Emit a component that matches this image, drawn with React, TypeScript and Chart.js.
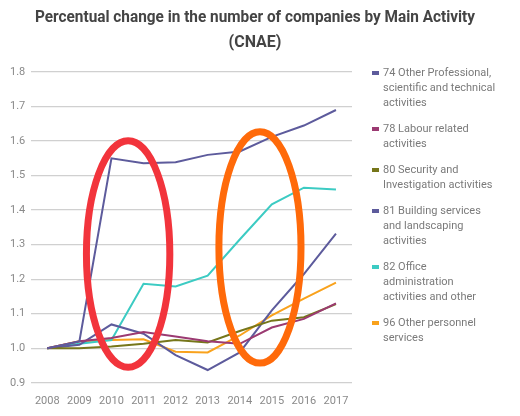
import React, { useEffect, useRef } from "react";
import { Chart, registerables } from "chart.js";
Chart.register(...registerables);

const years = ["2008", "2009", "2010", "2011", "2012", "2013", "2014", "2015", "2016", "2017"];

const s74 = [1.0, 1.02, 1.55, 1.536, 1.539, 1.56, 1.57, 1.612, 1.645, 1.69];
const s78 = [1.0, 1.02, 1.03, 1.047, 1.034, 1.02, 1.013, 1.06, 1.085, 1.13];
const s80 = [1.0, 1.0, 1.005, 1.013, 1.024, 1.017, 1.05, 1.08, 1.09, 1.128];
const s81 = [1.0, 1.01, 1.069, 1.042, 0.98, 0.937, 0.988, 1.11, 1.215, 1.332];
const s82 = [1.0, 1.013, 1.024, 1.187, 1.179, 1.21, 1.315, 1.417, 1.465, 1.46];
const s96 = [1.0, 1.02, 1.024, 1.026, 0.99, 0.988, 1.037, 1.095, 1.144, 1.19];

const seriesValues = [s74, s78, s80, s81, s82, s96];
const seriesNames = [
  ["74 Other Professional,", "scientific and technical", "activities"],
  ["78 Labour related", "activities"],
  ["80 Security and", "Investigation activities"],
  ["81 Building services", "and landscaping", "activities"],
  ["82 Office", "administration", "activities and other"],
  ["96 Other personnel", "services"],
];
const seriesColors = ["#5d5b9c", "#9b3a72", "#76761a", "#5d5b9c", "#3ccbc3", "#f9a21c"];

const titleLines = ["Percentual change in the number of companies by Main Activity", "(CNAE)"];

// annotation ellipses in data units (x = category index, y = value)
const highlights = [
  { cx: 2.52, cy: 1.273, rx: 1.3, ry: 0.328, color: "#f2343c" },
  { cx: 6.63, cy: 1.292, rx: 1.28, ry: 0.335, color: "#ff6a0a" },
];

const ellipsePlugin = {
  id: "ellipses",
  afterDatasetsDraw(chart: any) {
    const { ctx, scales } = chart;
    const x = scales.x;
    const y = scales.y;
    ctx.save();
    for (const h of highlights) {
      const px = x.getPixelForValue(h.cx);
      const py = y.getPixelForValue(h.cy);
      const rx = Math.abs(x.getPixelForValue(h.cx + h.rx) - px);
      const ry = Math.abs(y.getPixelForValue(h.cy + h.ry) - py);
      ctx.beginPath();
      ctx.ellipse(px, py, rx, ry, 0, 0, Math.PI * 2);
      ctx.lineWidth = 7;
      ctx.strokeStyle = h.color;
      ctx.stroke();
    }
    ctx.restore();
  },
};

const titlePlugin = {
  id: "wideTitle",
  afterDraw(chart: any) {
    const { ctx, width } = chart;
    ctx.save();
    ctx.font = "bold 16px Roboto";
    ctx.fillStyle = "#444444";
    ctx.textAlign = "center";
    ctx.textBaseline = "middle";
    titleLines.forEach((t, i) => ctx.fillText(t, width / 2 - 5, 18 + i * 24.5, 440));
    ctx.restore();
  },
};

const legendPlugin = {
  id: "sideLegend",
  afterDraw(chart: any) {
    const { ctx, chartArea } = chart;
    const left = chartArea.right + 20;
    let yPos = chartArea.top + 1;
    const lh = 15;
    ctx.save();
    ctx.font = "11px Roboto";
    ctx.textBaseline = "middle";
    ctx.textAlign = "left";
    seriesNames.forEach((lines, i) => {
      ctx.fillStyle = seriesColors[i];
      ctx.fillRect(left, yPos - 2, 7, 4);
      ctx.fillStyle = "#7a7a7a";
      lines.forEach((t, j) => {
        ctx.fillText(t, left + 11, yPos + j * lh);
      });
      yPos += lines.length * lh + 11;
    });
    ctx.restore();
  },
};

export default function App() {
  const ref = useRef<HTMLCanvasElement>(null);
  useEffect(() => {
    if (!ref.current) return;
    const chart = new Chart(ref.current, {
      type: "line",
      data: {
        labels: years,
        datasets: seriesValues.map((vals, i) => ({
          label: seriesNames[i].join(" "),
          data: vals,
          borderColor: seriesColors[i],
          backgroundColor: seriesColors[i],
          borderWidth: 2,
          pointRadius: 0,
          tension: 0,
        })),
      },
      options: {
        animation: false,
        responsive: false,
        maintainAspectRatio: false,
        layout: { padding: { left: 4, right: 168, top: 72, bottom: 4 } },
        plugins: {
          legend: { display: false },
          tooltip: { enabled: false },
          title: { display: false },
        },
        scales: {
          x: {
            offset: true,
            grid: { display: false },
            border: { display: false },
            ticks: { color: "#8a8a8a", font: { family: "Roboto", size: 11 }, padding: 4, maxRotation: 0 },
          },
          y: {
            min: 0.9,
            max: 1.8,
            border: { display: false },
            grid: { color: "#d0d0d0", lineWidth: 1.3, drawTicks: false },
            ticks: {
              stepSize: 0.1,
              color: "#8a8a8a",
              font: { family: "Roboto", size: 11 },
              padding: 6,
              callback: (v: any) => Number(v).toFixed(1),
            },
          },
        },
      },
      plugins: [ellipsePlugin, titlePlugin, legendPlugin],
    });
    return () => chart.destroy();
  }, []);
  return (
    <div style={{ position: "fixed", left: 0, top: 0, width: 520, height: 416, background: "#fff" }}>
      <canvas ref={ref} width={520} height={416} style={{ width: 520, height: 416 }} />
    </div>
  );
}
